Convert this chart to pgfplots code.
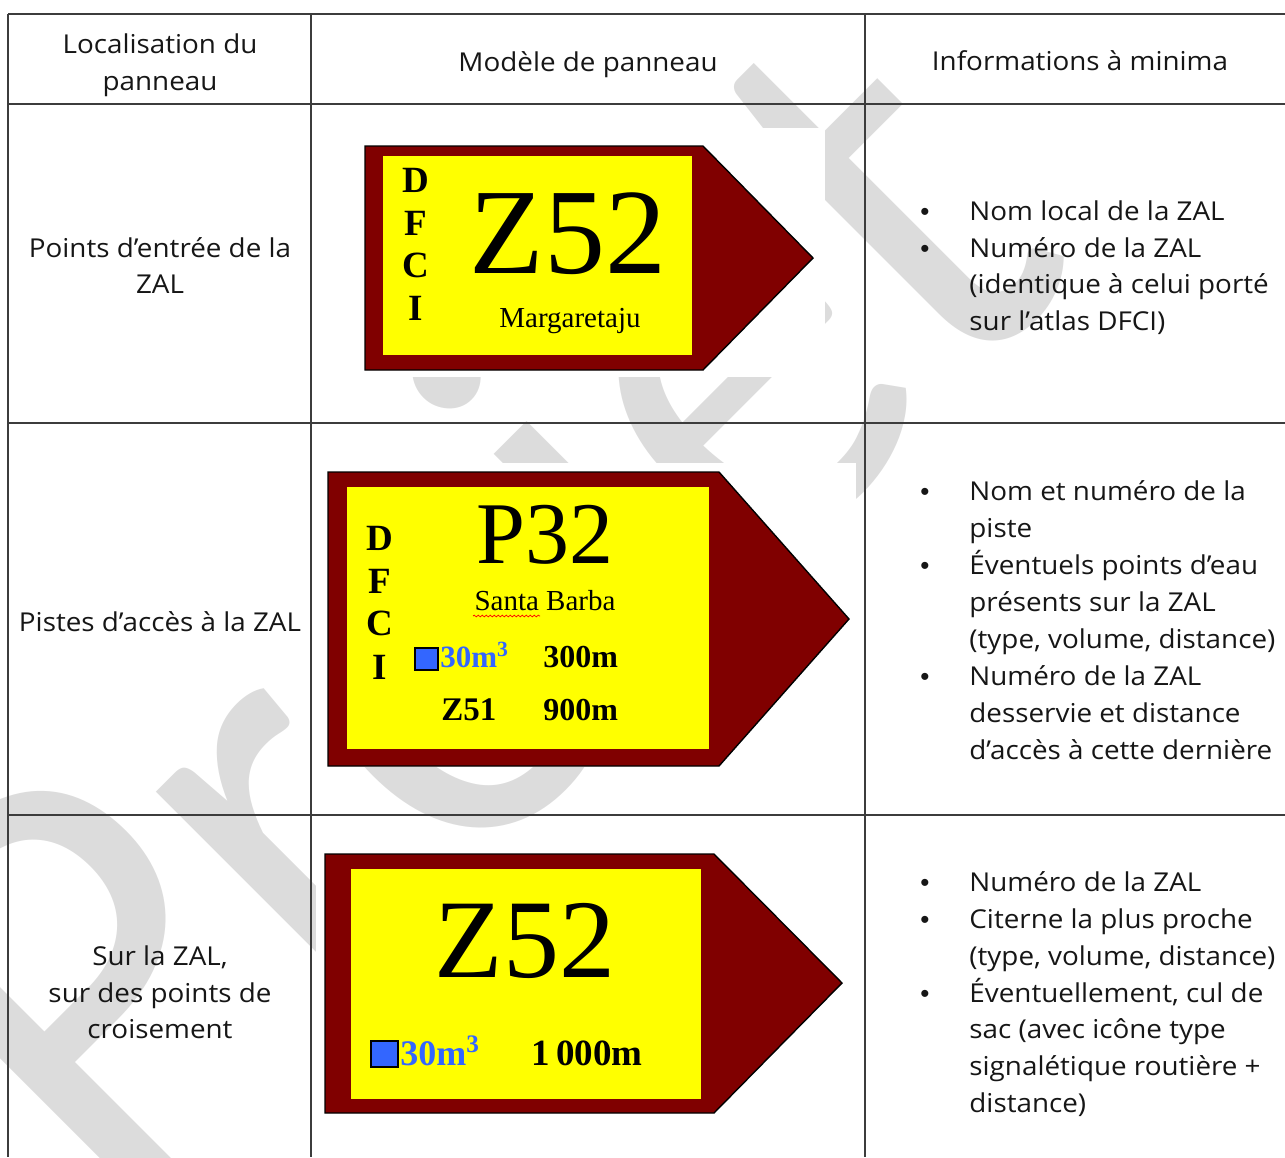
\documentclass[border=0pt]{standalone}
\usepackage{fontspec}
\setmainfont{Open Sans}[FakeStretch=1.07]
\newfontfamily\wmfont{Lato}[FakeStretch=0.93]
\newfontfamily\bulfont{Liberation Sans}
\newfontfamily\signfont{Liberation Serif}
\usepackage{pgfplots}
\pgfplotsset{compat=1.18}
\usetikzlibrary{decorations.pathmorphing}
\definecolor{signred}{RGB}{128,0,0}
\definecolor{signyellow}{RGB}{255,255,0}
\definecolor{signblue}{RGB}{51,102,255}
\definecolor{wm}{RGB}{220,220,220}
\definecolor{rulec}{RGB}{60,60,60}
\definecolor{txt}{RGB}{22,22,22}
% table text: centred line, left line, bullet
\newcommand\TC[3]{\node[anchor=base,inner sep=0pt,font=\fontsize{13}{15}\selectfont,text=txt] at (axis cs:#1,#2) {#3};}
\newcommand\TL[3]{\node[anchor=base west,inner sep=0pt,font=\fontsize{13}{15}\selectfont,text=txt] at (axis cs:#1,#2) {#3};}
\newcommand\BL[1]{\node[anchor=base,inner sep=0pt,font=\bulfont\fontsize{13}{15}\selectfont,text=txt] at (axis cs:925,#1) {•};}
% sign text: anchor, size, x, y, text
\newcommand\SG[5]{\node[anchor=#1,inner sep=0pt,font=\signfont\fontsize{#2}{#2}\selectfont] at (axis cs:#3,#4) {#5};}
\begin{document}
\begin{tikzpicture}
\begin{axis}[
  scale only axis, width=642.5pt, height=578.5pt,
  xmin=0, xmax=1285, ymin=0, ymax=1157, y dir=reverse,
  axis lines=none, clip=true,
  every axis plot/.append style={mark=none},
]
% ---- watermark
\node[rotate=45,anchor=base west,inner sep=0pt,text=wm,font=\wmfont\fontsize{281}{281}\selectfont] at (axis cs:112,1239) {Projet};

% ---- white backgrounds of the sign pictures
\addplot[fill=white,draw=none] coordinates {(355,128) (825,128) (825,377) (355,377)} --cycle;
\addplot[fill=white,draw=none] coordinates {(320,463) (856,463) (856,767) (320,767)} --cycle;
\addplot[fill=white,draw=none] coordinates {(316,845) (850,845) (850,1120) (316,1120)} --cycle;

% ---- sign 1
\addplot[fill=signred,draw=black,line width=0.7pt] coordinates {(365,146) (703,146) (813,258) (703,370) (365,370)} --cycle;
\addplot[fill=signyellow,draw=none] coordinates {(383,156) (692,156) (692,355) (383,355)} --cycle;
\SG{base}{18.5}{416}{192}{\bfseries D}
\SG{base}{18.5}{416}{235}{\bfseries F}
\SG{base}{18.5}{416}{277}{\bfseries C}
\SG{base}{18.5}{416}{320}{\bfseries I}
\SG{base}{61}{568}{273}{Z52}
\SG{base}{14.5}{570}{327}{Margaretaju}

% ---- sign 2
\addplot[fill=signred,draw=black,line width=0.7pt] coordinates {(328,472) (719,472) (849,619) (719,766) (328,766)} --cycle;
\addplot[fill=signyellow,draw=none] coordinates {(347,487) (709,487) (709,749) (347,749)} --cycle;
\SG{base}{18.5}{380}{550}{\bfseries D}
\SG{base}{18.5}{380}{593}{\bfseries F}
\SG{base}{18.5}{380}{635}{\bfseries C}
\SG{base}{18.5}{380}{679}{\bfseries I}
\SG{base}{44}{545}{563}{P32}
\SG{base}{14.5}{545}{610}{Santa Barba}
\addplot[red,line width=0.35pt,decorate,decoration={snake,amplitude=0.45pt,segment length=2pt}] coordinates {(473,616) (540,616)};
\addplot[fill=signblue,draw=black,line width=0.6pt] coordinates {(415,648) (438,648) (438,670) (415,670)} --cycle;
\SG{base west}{15.5}{440}{667}{\bfseries\color{signblue}30m\textsuperscript{3}}
\SG{base west}{16}{543}{667}{\bfseries 300m}
\SG{base west}{16.5}{441}{720}{\bfseries Z51}
\SG{base west}{16}{543}{720}{\bfseries 900m}

% ---- sign 3
\addplot[fill=signred,draw=black,line width=0.7pt] coordinates {(325,854) (714,854) (842,983) (714,1113) (325,1113)} --cycle;
\addplot[fill=signyellow,draw=none] coordinates {(351,869) (701,869) (701,1099) (351,1099)} --cycle;
\SG{base}{56}{525}{977}{Z52}
\addplot[fill=signblue,draw=black,line width=0.6pt] coordinates {(371,1041) (398,1041) (398,1067) (371,1067)} --cycle;
\SG{base west}{18}{400}{1065}{\bfseries\color{signblue}30m\textsuperscript{3}}
\SG{base west}{18.5}{531}{1065}{\bfseries 1\,000m}

% ---- table rules
\addplot[rulec,line width=0.8pt] coordinates {(8,14) (1285,14)};
\addplot[rulec,line width=0.8pt] coordinates {(8,104) (1285,104)};
\addplot[rulec,line width=0.8pt] coordinates {(8,423) (1285,423)};
\addplot[rulec,line width=0.8pt] coordinates {(8,815) (1285,815)};
\addplot[rulec,line width=0.8pt] coordinates {(8,14) (8,1157)};
\addplot[rulec,line width=0.8pt] coordinates {(311,14) (311,1157)};
\addplot[rulec,line width=0.8pt] coordinates {(865,14) (865,1157)};

% ---- header
\TC{160}{53}{Localisation du}
\TC{160}{90}{panneau}
\TC{588}{71}{Modèle de panneau}
\TC{1080}{70}{Informations à minima}

% ---- column 1
\TC{160}{257}{Points d’entrée de la}
\TC{160}{293}{ZAL}
\TC{160}{631}{Pistes d’accès à la ZAL}
\TC{160}{965}{Sur la ZAL,}
\TC{160}{1002}{sur des points de}
\TC{160}{1038}{croisement}

% ---- column 3
\BL{220}\TL{969}{220}{Nom local de la ZAL}
\BL{257}\TL{969}{257}{Numéro de la ZAL}
\TL{969}{293}{(identique à celui porté}
\TL{969}{330}{sur l’atlas DFCI)}

\BL{500}\TL{969}{500}{Nom et numéro de la}
\TL{969}{537}{piste}
\BL{574}\TL{969}{574}{Éventuels points d’eau}
\TL{969}{611}{présents sur la ZAL}
\TL{969}{648}{(type, volume, distance)}
\BL{685}\TL{969}{685}{Numéro de la ZAL}
\TL{969}{722}{desservie et distance}
\TL{969}{759}{d’accès à cette dernière}

\BL{891}\TL{969}{891}{Numéro de la ZAL}
\BL{928}\TL{969}{928}{Citerne la plus proche}
\TL{969}{965}{(type, volume, distance)}
\BL{1002}\TL{969}{1002}{Éventuellement, cul de}
\TL{969}{1038}{sac (avec icône type}
\TL{969}{1075}{signalétique routière +}
\TL{969}{1112}{distance)}
\end{axis}
\pgfresetboundingbox
\path[use as bounding box] (current axis.south west) rectangle (current axis.north east);
\end{tikzpicture}
\end{document}
